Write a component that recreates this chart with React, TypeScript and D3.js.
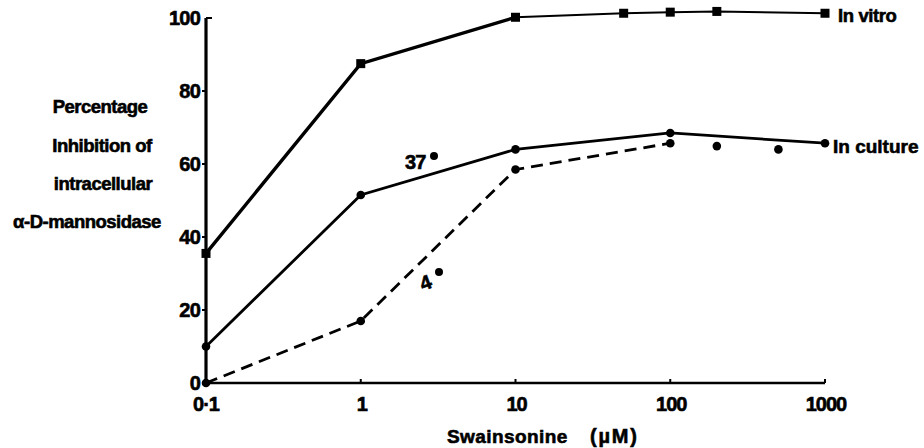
import React from 'react';
import * as d3 from 'd3';

// swainsonine concentration (uM) and % inhibition
const vitroDose = [0.1, 1, 10, 50, 100, 200, 1000];
const vitroValues = [35.5, 87.5, 100.2, 101.3, 101.6, 101.8, 101.3];

const warmDose = [0.1, 1, 10, 100, 1000];
const warmValues = [10, 51.5, 64, 68.5, 65.7];

const coldDose = [0.1, 1, 10, 100];
const coldValues = [0, 17, 58.5, 65.7];

const looseDose = [200, 500];
const looseValues = [64.9, 64];

const xTicks = [0.1, 1, 10, 100, 1000];
const xTickLabels = ['0·1', '1', '10', '100', '1000'];
const yTicks = [0, 20, 40, 60, 80, 100];

const yTitle = ['Percentage', 'Inhibition of', 'intracellular', 'α-D-mannosidase'];

const font = '"Liberation Sans", Arial, sans-serif';

const App = () => {
    const x = d3.scaleLog().domain([0.1, 1000]).range([206, 825]);
    const y = d3.scaleLinear().domain([0, 100]).range([383, 18]);

    const line = d3.line<[number, number]>()
        .x(d => x(d[0]))
        .y(d => y(d[1]));

    const zip = (a: number[], b: number[]) => a.map((v, i) => [v, b[i]] as [number, number]);

    const vitro = zip(vitroDose, vitroValues);
    const warm = zip(warmDose, warmValues);
    const cold = zip(coldDose, coldValues);
    const loose = zip(looseDose, looseValues);

    // y title lines sit at slightly different centres in the original
    const titleX = [100, 102, 103, 87];
    const titleY = [113, 152, 190, 228];

    // heavy print look: fill plus a thin stroke
    const ink = { fill: '#000', stroke: '#000', strokeWidth: 0.6 };

    return (
        <svg width={924} height={448} style={{ position: 'absolute', left: 0, top: 0, background: '#fff' }}
             fontFamily={font} fontWeight="bold">
            {/* axes */}
            <line x1={x(0.1)} x2={x(0.1)} y1={y(100)} y2={y(0) + 1} stroke="#000" strokeWidth={3.2} />
            <line x1={x(0.1)} x2={x(1000)} y1={y(0)} y2={y(0)} stroke="#000" strokeWidth={2.6} />
            <line x1={x(0.1)} x2={x(0.1) + 6} y1={y(100)} y2={y(100)} stroke="#000" strokeWidth={2} />
            {yTicks.slice(0, -1).map(t => (
                <line key={t} x1={x(0.1) - 4} x2={x(0.1)} y1={y(t)} y2={y(t)} stroke="#000" strokeWidth={2} />
            ))}
            {yTicks.map(t => (
                <text key={t} x={x(0.1) - 6} y={y(t)} dy="0.36em" textAnchor="end" fontSize={20}
                      letterSpacing={-0.8} {...ink}>{t}</text>
            ))}
            {xTicks.slice(1).map(t => (
                <line key={t} x1={x(t)} x2={x(t)} y1={y(0)} y2={y(0) - 4} stroke="#000" strokeWidth={2} />
            ))}
            {xTicks.map((t, i) => (
                <text key={t} x={x(t) + (i === 0 ? 0 : 1)} y={411} textAnchor="middle" fontSize={20}
                      letterSpacing={-1} {...ink}>{xTickLabels[i]}</text>
            ))}

            {/* axis titles */}
            {yTitle.map((s, i) => (
                <text key={s} x={titleX[i]} y={titleY[i]} textAnchor="middle" fontSize={18.5}
                      letterSpacing={-0.5} {...ink}>{s}</text>
            ))}
            <text x={447} y={443} fontSize={19} letterSpacing={-0.4} textLength={120} {...ink}>Swainsonine</text>
            <text x={590} y={443} fontSize={20} letterSpacing={1.8} {...ink}>(µM)</text>

            {/* in vitro */}
            <path d={line(vitro.slice(0, 3)) ?? ''} fill="none" stroke="#000" strokeWidth={3.4} />
            <path d={line(vitro.slice(2)) ?? ''} fill="none" stroke="#000" strokeWidth={2} />
            {vitro.map((d, i) => (
                <rect key={i} x={x(d[0]) - 4.5} y={y(d[1]) - 4.5} width={9} height={9} fill="#000" />
            ))}

            {/* in culture, 37 deg */}
            <path d={line(warm) ?? ''} fill="none" stroke="#000" strokeWidth={2.8} />
            {warm.map((d, i) => (
                <circle key={i} cx={x(d[0])} cy={y(d[1])} r={4.3} fill="#000" />
            ))}

            {/* in culture, 4 deg */}
            <path d={line(cold) ?? ''} fill="none" stroke="#000" strokeWidth={2.8} strokeDasharray="12 7" />
            {cold.map((d, i) => (
                <circle key={i} cx={x(d[0])} cy={y(d[1])} r={4.3} fill="#000" />
            ))}
            {loose.map((d, i) => (
                <circle key={i} cx={x(d[0])} cy={y(d[1])} r={4.3} fill="#000" />
            ))}

            {/* labels */}
            <text x={838} y={22} fontSize={18.5} letterSpacing={-0.4} {...ink}>In vitro</text>
            <text x={833} y={153} fontSize={19} letterSpacing={0} {...ink}>In culture</text>
            <text x={405} y={169} fontSize={20} letterSpacing={-0.8} {...ink}>37</text>
            <circle cx={434} cy={156} r={4} fill="#000" />
            <text x={420} y={289} fontSize={20} transform="rotate(-20 427 282)" {...ink}>4</text>
            <circle cx={439} cy={272} r={4} fill="#000" />
        </svg>
    );
};

export default App;
